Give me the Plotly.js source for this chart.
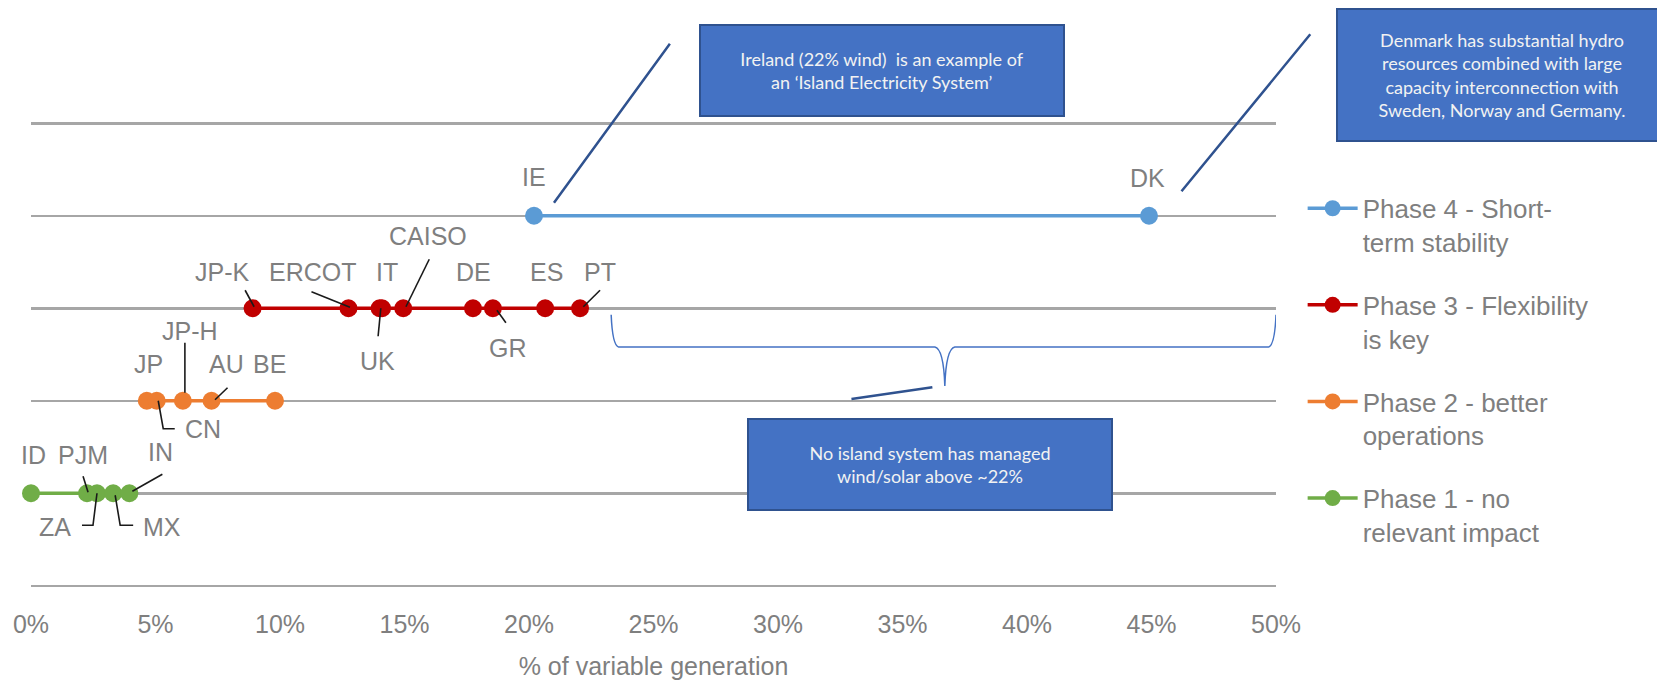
<!DOCTYPE html>
<html>
<head>
<meta charset="utf-8">
<script src="https://cdn.plot.ly/plotly-3.0.1.min.js"></script>
<style>
  html, body { margin: 0; padding: 0; background: #ffffff; }
  #chart { width: 1657px; height: 686px; }
</style>
</head>
<body>
<div id="chart"></div>
<script>
// Share of variable (wind + solar) generation by power system, grouped by integration phase
const phaseLevels = [1, 2, 3, 4];
const phaseLegend = [
  'Phase 1 - no<br>relevant impact',
  'Phase 2 - better<br>operations',
  'Phase 3 - Flexibility<br>is key',
  'Phase 4 - Short-<br>term stability'
];
const phaseColors = ['#70AD47', '#ED7D31', '#C00000', '#5B9BD5'];

const phase1Systems = ['ID', 'PJM', 'ZA', 'MX', 'IN'];
const phase1Share   = [0.0, 2.25, 2.65, 3.3, 3.95];

const phase2Systems = ['JP', 'CN', 'JP-H', 'AU', 'BE'];
const phase2Share   = [4.65, 5.05, 6.1, 7.25, 9.8];

const phase3Systems = ['JP-K', 'ERCOT', 'IT', 'UK', 'CAISO', 'DE', 'GR', 'ES', 'PT'];
const phase3Share   = [8.9, 12.75, 14.1, 14.0, 14.95, 17.75, 18.55, 20.65, 22.05];

const phase4Systems = ['IE', 'DK'];
const phase4Share   = [20.2, 44.9];

const xTickValues = [0, 5, 10, 15, 20, 25, 30, 35, 40, 45, 50];

// Notes shown in the callout boxes
const noteIreland = 'Ireland (22% wind)\u00a0 is an example of<br>an \u2018Island Electricity System\u2019';
const noteDenmark = 'Denmark has substantial hydro<br>resources combined with large<br>capacity interconnection with<br>Sweden, Norway and Germany.';
const noteIsland  = 'No island system has managed<br>wind/solar above ~22%';
const islandLimit = 22; // brace covers the range above the island-system limit

// ---- label placement (screen pixels relative to each marker; y grows downward) ----
const labelPlacement = {
  'ID':   {dx: 2,   dy: -38},
  'PJM':  {dx: -4,  dy: -38, leader: [[-4, -17], [1, -1]]},
  'ZA':   {dx: -42, dy: 34,  leader: [[-15, 32], [-4, 32], [0, 0]]},
  'MX':   {dx: 49,  dy: 34,  leader: [[20, 32], [7, 32], [2, 2]]},
  'IN':   {dx: 31,  dy: -41, leader: [[33, -19], [3, -2]]},
  'JP':   {dx: 2,   dy: -37},
  'CN':   {dx: 46,  dy: 28,  leader: [[1.5, 0], [6.5, 28], [18, 28]]},
  'JP-H': {dx: 7,   dy: -70, leader: [[2, -58], [2, -8]]},
  'AU':   {dx: 14.5,dy: -37, leader: [[16, -13], [3.5, -1]]},
  'BE':   {dx: -6,  dy: -37},
  'JP-K': {dx: -30, dy: -36, leader: [[-7.5, -18], [1.5, -1.5]]},
  'ERCOT':{dx: -35, dy: -36, leader: [[-37, -16.5], [1.5, -1]]},
  'IT':   {dx: 5,   dy: -36},
  'UK':   {dx: -2,  dy: 53,  leader: [[-1.5, 28], [1.2, 0]]},
  'CAISO':{dx: 25,  dy: -72, leader: [[26, -49], [2.7, -1.5]]},
  'DE':   {dx: 1,   dy: -36},
  'GR':   {dx: 15,  dy: 40,  leader: [[4, 2], [13, 14.5]]},
  'ES':   {dx: 1.5, dy: -36},
  'PT':   {dx: 20,  dy: -36, leader: [[20, -18], [3.3, -1.5]]},
  'IE':   {dx: 0,   dy: -39, callout: {head: [20, -13], tail: [137, -173.5]}},
  'DK':   {dx: -2,  dy: -38, callout: {head: [32.5, -24.5], tail: [162.5, -183]}}
};

const labelFont = {family: 'Liberation Sans, Arial, sans-serif', size: 25, color: '#7f7f7f'};
const axisFont = {family: 'Liberation Sans, Arial, sans-serif', size: 25, color: '#7f7f7f'};
const boxFont = {family: 'Lato, Open Sans, sans-serif', size: 18, color: '#f2f2f2'};

const groups = [
  {level: phaseLevels[3], name: phaseLegend[3], color: phaseColors[3], systems: phase4Systems, share: phase4Share},
  {level: phaseLevels[2], name: phaseLegend[2], color: phaseColors[2], systems: phase3Systems, share: phase3Share},
  {level: phaseLevels[1], name: phaseLegend[1], color: phaseColors[1], systems: phase2Systems, share: phase2Share},
  {level: phaseLevels[0], name: phaseLegend[0], color: phaseColors[0], systems: phase1Systems, share: phase1Share}
];

const traces = groups.map(g => ({
  type: 'scatter',
  mode: 'lines+markers',
  name: g.name,
  legendgroup: g.name,
  x: g.share,
  y: g.share.map(() => g.level),
  text: g.systems,
  cliponaxis: false,
  line: {color: g.color, width: 3.5},
  marker: {color: g.color, size: 18},
  hoverinfo: 'text+x'
}));

const annotations = [];
const shapes = [];

function pixelPath(points) {
  return points.map((p, i) => (i === 0 ? 'M' : 'L') + p[0] + ',' + (-p[1])).join(' ');
}

groups.forEach(g => {
  g.systems.forEach((name, i) => {
    const pl = labelPlacement[name];
    annotations.push({
      x: g.share[i], y: g.level, xref: 'x', yref: 'y',
      text: name, showarrow: false,
      xanchor: 'center', yanchor: 'middle',
      xshift: pl.dx, yshift: -pl.dy,
      font: labelFont
    });
    if (pl.leader) {
      shapes.push({
        type: 'path', xref: 'x', yref: 'y',
        xsizemode: 'pixel', ysizemode: 'pixel',
        xanchor: g.share[i], yanchor: g.level,
        path: pixelPath(pl.leader),
        line: {color: '#1a1a1a', width: 1.6}
      });
    }
    if (pl.callout) {
      const c = pl.callout;
      annotations.push({
        x: g.share[i], y: g.level, xref: 'x', yref: 'y',
        xshift: c.head[0], yshift: -c.head[1],
        text: '', showarrow: true, arrowhead: 0,
        arrowwidth: 2.5, arrowcolor: '#2F528F',
        ax: c.tail[0] - c.head[0], ay: c.tail[1] - c.head[1],
        standoff: 0, startstandoff: 0,
        font: {size: 1}
      });
    }
  });
});

// Brace spanning everything above the island-system limit, with a pointer to its note
const braceLeft = islandLimit + 1.3, braceRight = xTickValues[xTickValues.length - 1];
const braceTip = 36.7;
shapes.push({
  type: 'path', xref: 'x', yref: 'y',
  path: 'M' + braceLeft + ',2.93 Q' + (braceLeft + 0.05) + ',2.6 ' + (braceLeft + 0.3) + ',2.58' +
        ' L' + (braceTip - 0.4) + ',2.58 Q' + (braceTip - 0.05) + ',2.56 ' + braceTip + ',2.16' +
        ' Q' + (braceTip + 0.05) + ',2.56 ' + (braceTip + 0.4) + ',2.58' +
        ' L' + (braceRight - 0.3) + ',2.58 Q' + (braceRight - 0.05) + ',2.6 ' + braceRight + ',2.93',
  line: {color: '#4472C4', width: 1.5}
});
shapes.push({
  type: 'line', xref: 'x', yref: 'y',
  x0: 32.95, y0: 2.02, x1: 36.2, y1: 2.146,
  line: {color: '#2F528F', width: 2.5}
});

// Callout boxes
function noteBox(text, x, y, w, h) {
  return {
    xref: 'paper', yref: 'paper', x: x, y: y,
    xanchor: 'center', yanchor: 'middle',
    text: text, showarrow: false,
    width: w, height: h, align: 'center', valign: 'middle',
    bgcolor: '#4472C4', bordercolor: '#2F528F', borderwidth: 2, borderpad: 0,
    font: boxFont
  };
}
annotations.push(noteBox(noteIreland, 0.6835, 1.0903, 362, 89));
annotations.push(noteBox(noteDenmark, 1.1815, 1.0821, 328, 130));
annotations.push(noteBox(noteIsland, 0.7221, 0.2711, 362, 89));

const layout = {
  width: 1657, height: 686,
  margin: {l: 31, r: 381, t: 113.5, b: 91, pad: 0},
  paper_bgcolor: '#ffffff', plot_bgcolor: '#ffffff',
  showlegend: true,
  legend: {
    x: 1.0214, xanchor: 'left', y: 0.8527, yanchor: 'top',
    font: {family: 'Liberation Sans, Arial, sans-serif', size: 26, color: '#7f7f7f'},
    itemwidth: 50, valign: 'top', tracegroupgap: 26,
    bgcolor: 'rgba(0,0,0,0)', traceorder: 'grouped'
  },
  xaxis: {
    range: [0, 50], showgrid: false, zeroline: false, showline: false,
    tickvals: xTickValues, ticktext: xTickValues.map(v => v + '%'),
    ticks: '', tickfont: axisFont,
    ticklabelstandoff: 12,
    title: {text: '% of variable generation', font: axisFont, standoff: 20},
    fixedrange: true
  },
  yaxis: {
    range: [-0.1, 5.1], tickvals: [0, 1, 2, 3, 4, 5], showticklabels: false,
    showgrid: true, gridcolor: '#a6a6a6', gridwidth: 2.5, zeroline: false, showline: false,
    ticks: '', fixedrange: true
  },
  annotations: annotations,
  shapes: shapes
};

Plotly.newPlot('chart', traces, layout, {displayModeBar: false, staticPlot: true});
</script>
</body>
</html>
